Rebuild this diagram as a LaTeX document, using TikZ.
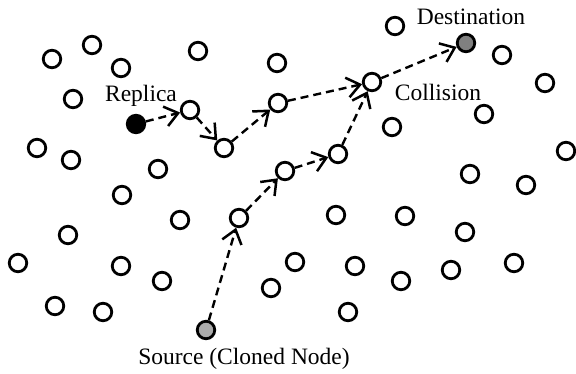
\documentclass[tikz,border=0pt]{standalone}
\usepackage{fontspec}
\setmainfont{Liberation Serif}
\usepackage{tikz}
\usetikzlibrary{arrows.meta}

\begin{document}
\begin{tikzpicture}[
		x=1pt, y=-1pt,
		font=\fontsize{23.5}{28}\selectfont,
		peer/.style={circle, draw, line width=2.8pt, minimum size=17.5pt, inner sep=0pt},
		hop/.style={line width=2.4pt, dash pattern=on 8pt off 5pt,
			-{Straight Barb[length=13pt, width=20pt, line width=2.5pt]}},
		label/.style={anchor=base, inner sep=0pt}
	]
	\useasboundingbox (0,0) rectangle (576,374);
	
	% scattered peers
	\foreach \x/\y [count=\i] in {52/59, 92/45, 121/68, 198/51, 277/63,
		73/99, 37/148, 71/160, 158/169, 122/195, 180/220, 68/235, 18/263,
		121/266, 162/281, 271/288, 55/306, 103/312, 336/215, 405/216,
		465/232, 295/262, 355/266, 401/281, 451/270, 514/263, 348/312,
		392/127, 484/114, 566/151, 470/174, 526/185, 395/26, 502/55, 545/83}{
		\node[peer] (n\i) at (\x,\y) {};
	}
	
	% the two walks
	\node[peer, fill=black] (replica) at (136,124) {};
	\node[peer] (p1) at (190,110) {};
	\node[peer] (p2) at (224,148) {};
	\node[peer] (p3) at (278,103) {};
	\node[peer] (collision) at (372,82) {};
	\node[peer, fill=black!50] (dest) at (466,43) {};
	
	\node[peer, fill=black!33] (source) at (206,330) {};
	\node[peer] (q1) at (239,218) {};
	\node[peer] (q2) at (285,171) {};
	\node[peer] (q3) at (338,154) {};
	
	\foreach \a/\b in {replica/p1, p1/p2, p2/p3, p3/collision, collision/dest,
		source/q1, q1/q2, q2/q3, q3/collision}{
		\draw[hop] (\a) -- (\b);
	}
	
	\node[label] (replicatext) at (141,102) {Replica};
	\node[label] (collisiontext) at (438,101) {Collision};
	\node[label] (desttext) at (471,25) {Destination};
	\node[label] (sourcetext) at (244,364) {Source (Cloned Node)};
\end{tikzpicture}
\end{document}
